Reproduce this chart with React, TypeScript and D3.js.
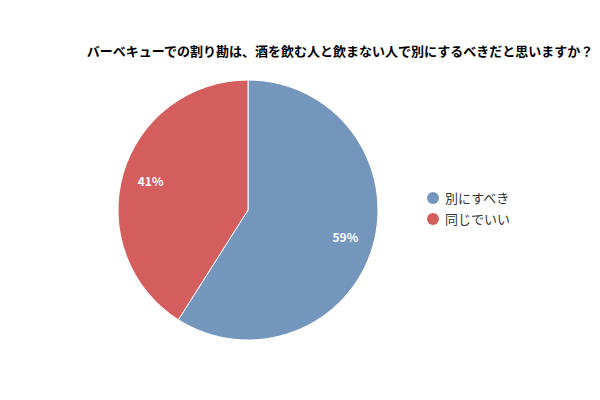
import React, { useEffect, useRef } from "react";
import * as d3 from "d3";

const title = "バーベキューでの割り勘は、酒を飲む人と飲まない人で別にするべきだと思いますか？";
const categories = ["別にすべき", "同じでいい"];
const values = [59, 41];
const colors = ["#7596bc", "#d45d5d"];

export default function App() {
	const svgRef = useRef<SVGSVGElement>(null);

	useEffect(() => {
		const svg = d3.select(svgRef.current);
		svg.selectAll("*").remove();

		const width = 600;
		const height = 400;
		const cx = 248;
		const cy = 210;
		const radius = 130;
		const font = "'Noto Sans CJK JP', 'Noto Sans', sans-serif";

		svg.attr("width", width).attr("height", height).style("font-family", font);
		svg.append("rect").attr("width", width).attr("height", height).attr("fill", "#fff");

		svg
			.append("text")
			.attr("x", 340)
			.attr("y", 56)
			.attr("text-anchor", "middle")
			.attr("font-size", 13)
			.attr("font-weight", "bold")
			.attr("fill", "#000")
			.text(title);

		const color = d3.scaleOrdinal<string, string>().domain(categories).range(colors);
		const pie = d3.pie<number>().sort(null).value((d) => d);
		const arcs = pie(values);
		const arc = d3.arc<d3.PieArcDatum<number>>().innerRadius(0).outerRadius(radius);
		const labelArc = d3
			.arc<d3.PieArcDatum<number>>()
			.innerRadius(radius * 0.78)
			.outerRadius(radius * 0.78);

		const g = svg.append("g").attr("transform", `translate(${cx},${cy})`);
		g.selectAll("path")
			.data(arcs)
			.join("path")
			.attr("d", arc)
			.attr("fill", (d, i) => color(categories[i]))
			.attr("stroke", "#fff")
			.attr("stroke-width", 1);

		g.selectAll("text")
			.data(arcs)
			.join("text")
			.attr("transform", (d) => `translate(${labelArc.centroid(d)})`)
			.attr("text-anchor", "middle")
			.attr("dy", "0.35em")
			.attr("font-size", 12)
			.attr("font-weight", "bold")
			.attr("fill", "#fff")
			.text((d) => `${d.data}%`);

		const legend = svg
			.append("g")
			.selectAll("g")
			.data(categories)
			.join("g")
			.attr("transform", (d, i) => `translate(433,${198 + i * 21})`);
		legend.append("circle").attr("r", 6).attr("fill", (d) => color(d));
		legend
			.append("text")
			.attr("x", 12)
			.attr("dy", "0.35em")
			.attr("font-size", 13)
			.attr("fill", "#333")
			.text((d) => d);
	}, []);

	return <svg ref={svgRef} style={{ position: "absolute", left: 0, top: 0 }} />;
}
